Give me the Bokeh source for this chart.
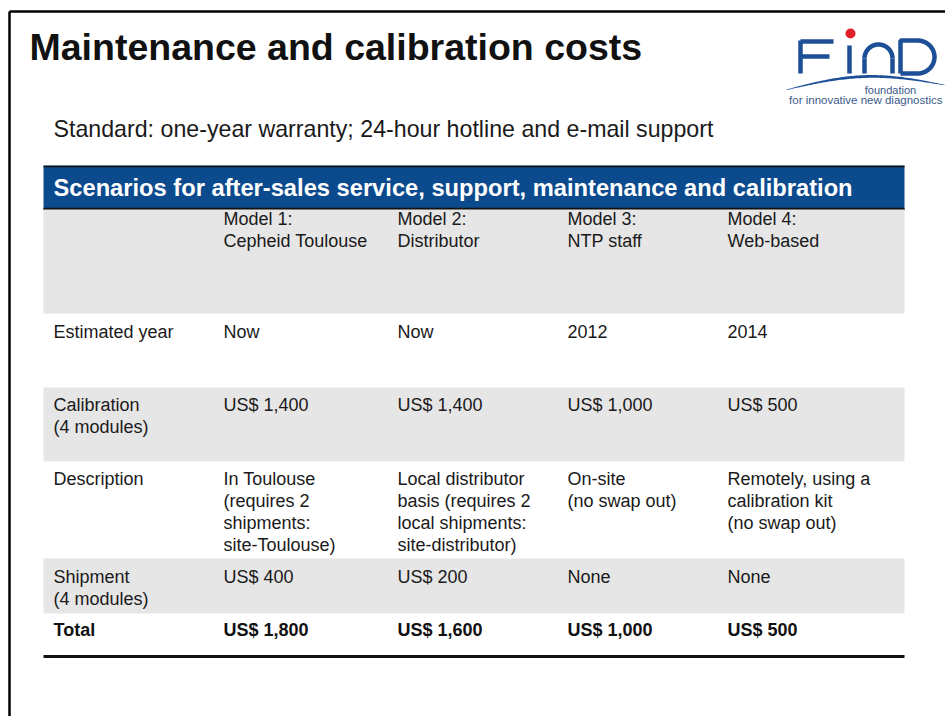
from bokeh.plotting import figure
from bokeh.models import Range1d, ColumnDataSource
from bokeh.embed import file_html
from bokeh.resources import INLINE
from bokeh.core.properties import value
import numpy as np

# ---------------- data ----------------
title = "Maintenance and calibration costs"
subtitle = "Standard: one-year warranty; 24-hour hotline and e-mail support"
table_title = "Scenarios for after-sales service, support, maintenance and calibration"

row_labels = ["", "Estimated year", "Calibration\n(4 modules)", "Description",
              "Shipment\n(4 modules)", "Total"]
models = ["Model 1:\nCepheid Toulouse", "Model 2:\nDistributor",
          "Model 3:\nNTP staff", "Model 4:\nWeb-based"]
years = ["Now", "Now", "2012", "2014"]
calibration = ["US$ 1,400", "US$ 1,400", "US$ 1,000", "US$ 500"]
description = ["In Toulouse\n(requires 2\nshipments:\nsite-Toulouse)",
               "Local distributor\nbasis (requires 2\nlocal shipments:\nsite-distributor)",
               "On-site\n(no swap out)",
               "Remotely, using a\ncalibration kit\n(no swap out)"]
shipment = ["US$ 400", "US$ 200", "None", "None"]
total = ["US$ 1,800", "US$ 1,600", "US$ 1,000", "US$ 500"]

rows = [models, years, calibration, description, shipment, total]

# ---------------- layout (pixel coordinates of the slide) ----------------
W, H = 945, 716
FONT = "Liberation Sans"
TXT = "#1a1a1a"
BLUE = "#0c4a8e"
GREY = "#e6e6e6"
LOGO = "#1c4f96"

tab_left, tab_right = 43, 904
row_tops = [208, 313, 387, 461, 558, 613, 655]
first_line = [218, 331, 404, 478, 576, 629]
shaded = [True, False, True, False, True, False]
col_x = [53, 223, 397, 567, 727]
line_h = 22

p = figure(width=W, height=H, x_range=Range1d(0, W), y_range=Range1d(H, 0),
           output_backend="svg", toolbar_location=None, min_border=0)
p.axis.visible = False
p.grid.visible = False
p.outline_line_color = None
p.background_fill_color = "white"
p.border_fill_color = "white"

# slide frame
p.segment(x0=[9, 9], y0=[11, 11], x1=[945, 9], y1=[11, 716], line_color="black", line_width=2.5)

# title & subtitle
p.text(x=[29], y=[46], text=[title], text_font=value(FONT), text_font_style="bold",
       text_font_size="37.5px", text_color="#111111", text_baseline="middle")
p.text(x=[53], y=[128], text=[subtitle], text_font=value(FONT),
       text_font_size="23.2px", text_color=TXT, text_baseline="middle")

# logo: F
p.segment(x0=[800, 800, 800], y0=[40, 41, 56], x1=[800, 833, 829], y1=[73, 41, 56],
          line_color=LOGO, line_width=4.5)
# i with red dot
p.segment(x0=[849], y0=[45], x1=[849], y1=[73], line_color=LOGO, line_width=4.5)
p.circle(x=[850], y=[33], radius=5, fill_color="#e0202a", line_color=None)
# n (arch)
th = np.linspace(np.pi, 2 * np.pi, 40)
p.line(x=878 + 14 * np.cos(th), y=58 + 14 * np.sin(th), line_color=LOGO, line_width=4.5)
p.segment(x0=[864, 892], y0=[58, 58], x1=[864, 892], y1=[73, 73], line_color=LOGO, line_width=4.5)
# D
th2 = np.linspace(-np.pi / 2, np.pi / 2, 40)
p.line(x=np.concatenate([[900, 900, 917], 917 + 17 * np.cos(th2), [917, 900]]),
       y=np.concatenate([[73, 40, 40], 56.5 + 16.5 * np.sin(th2), [73, 73]]),
       line_color=LOGO, line_width=4.5)
# swoosh
ax = np.linspace(786, 944, 80)
s = np.sin(np.pi * (ax - 786) / 158)
p.varea(x=ax, y1=89 - 12 * s - (ax - 786) * 0.03,
        y2=89 - 12 * s - (ax - 786) * 0.03 + 0.6 + 2.2 * s,
        fill_color=LOGO)
p.text(x=[890], y=[89], text=["foundation"], text_font=value(FONT), text_font_size="11px",
       text_color="#3a5a8a", text_baseline="middle", text_align="center")
p.text(x=[942], y=[99], text=["for innovative new diagnostics"], text_font=value(FONT),
       text_font_size="11.5px", text_color="#3a5a8a", text_baseline="middle", text_align="right")

# table title bar
p.quad(left=[tab_left], right=[tab_right], top=[165], bottom=[209], fill_color=BLUE, line_color=None)
p.segment(x0=[tab_left, tab_left], y0=[166, 208.5], x1=[tab_right, tab_right], y1=[166, 208.5],
          line_color="#111111", line_width=[1.5, 2.5])
p.text(x=[53], y=[187], text=[table_title], text_font=value(FONT), text_font_style="bold",
       text_font_size="23.7px", text_color="white", text_baseline="middle")

# shaded bands
lefts, rights, tops, bottoms = [], [], [], []
for i, sh in enumerate(shaded):
    if sh:
        lefts.append(tab_left); rights.append(tab_right)
        tops.append(row_tops[i] + (1 if i == 0 else 0)); bottoms.append(row_tops[i + 1])
p.quad(left=lefts, right=rights, top=tops, bottom=bottoms, fill_color=GREY, line_color=None)

# cell texts
xs, ys, ts, bold = [], [], [], []
for r, (lab, vals) in enumerate(zip(row_labels, rows)):
    cells = [lab] + list(vals)
    for c, cell in enumerate(cells):
        for k, ln in enumerate(cell.split("\n")):
            if ln:
                xs.append(col_x[c]); ys.append(first_line[r] + k * line_h); ts.append(ln)
                bold.append(r == len(rows) - 1)
norm = ColumnDataSource(dict(x=[x for x, b in zip(xs, bold) if not b],
                             y=[y for y, b in zip(ys, bold) if not b],
                             t=[t for t, b in zip(ts, bold) if not b]))
bsrc = ColumnDataSource(dict(x=[x for x, b in zip(xs, bold) if b],
                             y=[y for y, b in zip(ys, bold) if b],
                             t=[t for t, b in zip(ts, bold) if b]))
p.text(x="x", y="y", text="t", source=norm, text_font=value(FONT), text_font_size="18px",
       text_color=TXT, text_baseline="middle")
p.text(x="x", y="y", text="t", source=bsrc, text_font=value(FONT), text_font_size="18px",
       text_font_style="bold", text_color="#111111", text_baseline="middle")

# bottom rule
p.segment(x0=[tab_left], y0=[656], x1=[tab_right], y1=[656], line_color="#111111", line_width=3)

open("out.html", "w").write(file_html(p, INLINE))
